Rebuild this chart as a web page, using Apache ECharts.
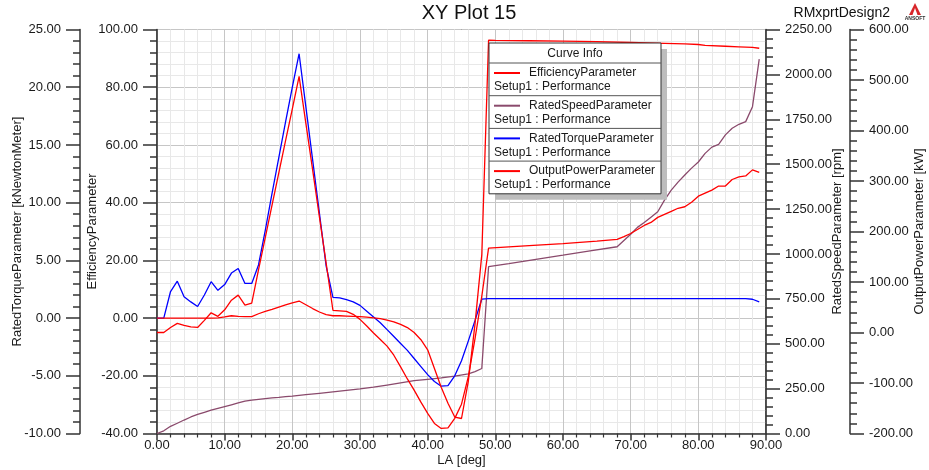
<!DOCTYPE html>
<html>
<head>
<meta charset="utf-8">
<title>XY Plot 15</title>
<script src="https://cdn.jsdelivr.net/npm/echarts@6/dist/echarts.min.js"></script>
<style>
  html, body { margin: 0; padding: 0; background: #ffffff; }
  #chart { width: 929px; height: 470px; }
</style>
</head>
<body>
<div id="chart"></div>
<script>
// Parametric sweep of the lead angle LA [deg]; each series is [LA, value].
const efficiency = [
  [0,0],[1,0],[2,0],[3,0],[4,0],[5,0],[6,0],[7,0],[8,0],[9,0.1],[10,0.4],[11,0.8],[12,0.6],[13,0.5],[14,0.5],
  [15,1.5],[16,2.3],[17,3.0],[18,3.8],[19,4.6],[20,5.3],[21,5.9],[22,4.6],[23,3.3],[24,2.1],[25,1.2],[26,0.8],
  [27,0.8],[28,0.7],[29,0.6],[30,0.5],[31,0.3],[32,0.1],[33,-0.2],[34,-0.7],[35,-1.3],[36,-2.2],[37,-3.3],
  [38,-5.0],[39,-7.5],[40,-11.0],[41,-17.5],[42,-24.0],[43,-29.5],[44,-34.3],[45,-34.8],[46,-22.0],[47,-2.0],
  [48,22.0],[49,96.3],[50,96.2],[55,96.1],[60,96.0],[65,95.8],[70,95.5],[75,95.2],[78,95.0],[80,94.8],
  [81,94.5],[84,94.2],[86,94.0],[88,93.8],[89,93.5]
];

const ratedSpeed = [
  [0,0],[1,15],[2,40],[3,57],[4,75],[5,92],[6,106],[7,118],[8,130],[9,140],[10,150],[11,160],[12,170],[13,180],
  [14,186],[15,190],[16,194],[17,198],[18,201],[19,205],[20,208],[22,216],[24,224],[26,232],[28,240],[30,248],
  [32,258],[34,270],[36,282],[38,294],[40,302],[42,310],[44,320],[46,332],[47,345],[48,362],[49,929],[52,946],
  [56,970],[60,993],[64,1017],[68,1040],[69,1075],[70,1110],[71,1148],[72,1175],[73,1205],[74,1235],[75,1300],
  [76,1355],[77,1400],[78,1440],[79,1478],[80,1512],[81,1560],[82,1595],[83,1610],[84,1663],[85,1700],
  [86,1722],[87,1737],[88,1820],[89,2085]
];

const ratedTorque = [
  [0,0],[1,0],[2,2.3],[3,3.2],[4,1.85],[5,1.4],[6,1.0],[7,2.0],[8,3.15],[9,2.4],[10,2.9],[11,3.9],[12,4.3],
  [13,3.0],[14,3.0],[15,4.6],[16,7.6],[17,10.8],[18,13.9],[19,17.0],[20,20.0],[21,22.9],[22,18.3],[23,13.7],
  [24,9.1],[25,4.5],[26,1.8],[27,1.75],[28,1.6],[29,1.4],[30,1.1],[31,0.6],[32,0.1],[33,-0.4],[34,-1.0],
  [35,-1.6],[36,-2.2],[37,-2.8],[38,-3.5],[39,-4.2],[40,-4.9],[41,-5.5],[42,-5.9],[43,-5.85],[44,-5.0],
  [45,-3.7],[46,-2.0],[47,-0.2],[48,1.65],[49,1.69],[55,1.69],[60,1.69],[65,1.69],[70,1.69],[75,1.69],
  [80,1.69],[84,1.69],[86,1.68],[87,1.68],[88,1.63],[89,1.41]
];

const outputPower = [
  [0,0],[1,0],[2,10],[3,18],[4,14],[5,11],[6,10],[7,24],[8,39],[9,32],[10,45],[11,64],[12,74],[13,54],[14,58],
  [15,124],[16,188],[17,252],[18,316],[19,380],[20,443],[21,507],[22,414],[23,322],[24,229],[25,137],[26,44],
  [27,43],[28,42],[29,36],[30,26],[31,13],[32,-1],[33,-14],[34,-27],[35,-45],[36,-68],[37,-92],[38,-114],
  [39,-138],[40,-160],[41,-180],[42,-190],[43,-189],[44,-170],[45,-142],[46,-88],[47,-12],[48,72],[49,167],
  [55,172],[60,176],[65,181],[68,184.5],[69,190],[70,196],[71,204],[72,212],[73,218],[74,228],[75,234],
  [76,240],[77,246],[78,249],[79,258],[80,270],[81,276],[82,282],[83,290],[84,290],[85,303],[86,308],
  [87,310],[88,322],[89,317]
];

const seriesNames = ['EfficiencyParameter', 'RatedSpeedParameter', 'RatedTorqueParameter', 'OutputPowerParameter'];
const seriesColors = ['#ff0000', '#8a4a6c', '#0000ff', '#ff0000'];
const setupLabel = 'Setup1 : Performance';
const plotTitle = 'XY Plot 15';
const designName = 'RMxprtDesign2';
const xAxisName = 'LA [deg]';
const yAxisNames = ['RatedTorqueParameter [kNewtonMeter]', 'EfficiencyParameter', 'RatedSpeedParameter [rpm]', 'OutputPowerParameter [kW]'];

const FONT = '"Liberation Sans", Arial, sans-serif';
const AXIS_COLOR = '#333333';
const TEXT_COLOR = '#1a1a1a';

function fixed2(v) { return Number(v).toFixed(2); }

function valueAxis(cfg) {
  return {
    type: 'value',
    position: cfg.position,
    offset: cfg.offset,
    min: cfg.min,
    max: cfg.max,
    interval: cfg.interval,
    name: cfg.name,
    nameLocation: 'middle',
    nameGap: cfg.nameGap,
    nameRotate: 90,
    nameMoveOverlap: false,
    nameTextStyle: { color: TEXT_COLOR, fontSize: 13, fontFamily: FONT },
    axisLine: { show: true, onZero: false, lineStyle: { color: AXIS_COLOR, width: 1.5 } },
    axisTick: { show: true, inside: false, length: 14, lineStyle: { color: AXIS_COLOR, width: 1.5 } },
    minorTick: { show: true, splitNumber: 5, length: 7, lineStyle: { color: AXIS_COLOR, width: 1.5 } },
    axisLabel: { show: true, margin: 19, color: TEXT_COLOR, fontSize: 13, fontFamily: FONT, formatter: fixed2, hideOverlap: false },
    splitLine: cfg.grid ? { show: true, lineStyle: { color: '#c6c6c6', width: 1 } } : { show: false },
    minorSplitLine: cfg.grid ? { show: true, lineStyle: { color: '#e8e8e8', width: 1 } } : { show: false }
  };
}

// Legend panel ("Curve Info") drawn as graphic elements
const legendLeft = 489, legendTop = 43, legendW = 172, headerH = 20, rowH = 32.7;
const legendH = headerH + rowH * seriesNames.length;
const legendGraphics = [
  { type: 'rect', shape: { x: legendLeft + 6, y: legendTop + 6, width: legendW, height: legendH },
    style: { fill: '#bdbdbd' }, z: 100 },
  { type: 'rect', shape: { x: legendLeft, y: legendTop, width: legendW, height: legendH },
    style: { fill: '#ffffff', stroke: '#333333', lineWidth: 1 }, z: 101 },
  { type: 'text', x: legendLeft + legendW / 2, y: legendTop + headerH / 2 + 1,
    style: { text: 'Curve Info', fill: TEXT_COLOR, font: '12px ' + FONT, textAlign: 'center', textVerticalAlign: 'middle' }, z: 102 }
];
seriesNames.forEach(function (name, i) {
  const top = legendTop + headerH + rowH * i;
  legendGraphics.push(
    { type: 'line', shape: { x1: legendLeft, y1: top, x2: legendLeft + legendW, y2: top },
      style: { stroke: '#555555', lineWidth: 1 }, z: 102 },
    { type: 'line', shape: { x1: legendLeft + 5, y1: top + 10, x2: legendLeft + 31, y2: top + 10 },
      style: { stroke: seriesColors[i], lineWidth: 2 }, z: 102 },
    { type: 'text', x: legendLeft + 40, y: top + 10,
      style: { text: name, fill: TEXT_COLOR, font: '12px ' + FONT, textVerticalAlign: 'middle' }, z: 102 },
    { type: 'text', x: legendLeft + 5, y: top + 24,
      style: { text: setupLabel, fill: TEXT_COLOR, font: '12px ' + FONT, textVerticalAlign: 'middle' }, z: 102 }
  );
});

const headerGraphics = [
  { type: 'text', x: 469, y: 13,
    style: { text: plotTitle, fill: '#111111', font: '20px ' + FONT, textAlign: 'center', textVerticalAlign: 'middle' } },
  { type: 'text', x: 890, y: 13,
    style: { text: designName, fill: '#111111', font: '14px ' + FONT, textAlign: 'right', textVerticalAlign: 'middle' } },
  // small company mark in the corner
  { type: 'polygon', shape: { points: [[915, 3], [909, 15], [921, 15]] }, style: { fill: '#d8262a' } },
  { type: 'polygon', shape: { points: [[915, 8], [912.5, 15], [917.5, 15]] }, style: { fill: '#ffffff' } },
  { type: 'text', x: 915, y: 19,
    style: { text: 'ANSOFT', fill: '#333333', font: 'bold 5px ' + FONT, textAlign: 'center', textVerticalAlign: 'middle' } }
];

const chart = echarts.init(document.getElementById('chart'), null, { renderer: 'canvas' });

chart.setOption({
  animation: false,
  backgroundColor: '#ffffff',
  grid: {
    left: 157, right: 163, top: 29.5, bottom: 36.5,
    show: true, borderColor: '#222222', borderWidth: 1, backgroundColor: 'transparent',
    containLabel: false, outerBoundsMode: 'none'
  },
  xAxis: {
    type: 'value',
    min: 0, max: 90, interval: 10,
    name: xAxisName,
    nameLocation: 'middle',
    nameGap: 20,
    nameMoveOverlap: false,
    nameTextStyle: { color: TEXT_COLOR, fontSize: 13, fontFamily: FONT },
    axisLine: { show: true, onZero: false, lineStyle: { color: AXIS_COLOR, width: 1.5 } },
    axisTick: { show: true, length: 7, lineStyle: { color: AXIS_COLOR, width: 1.5 } },
    minorTick: { show: true, splitNumber: 5, length: 4, lineStyle: { color: AXIS_COLOR, width: 1.2 } },
    axisLabel: { margin: 5, color: TEXT_COLOR, fontSize: 13, fontFamily: FONT, formatter: fixed2, hideOverlap: false },
    splitLine: { show: true, lineStyle: { color: '#c6c6c6', width: 1 } },
    minorSplitLine: { show: true, lineStyle: { color: '#e8e8e8', width: 1 } }
  },
  yAxis: [
    valueAxis({ position: 'left', offset: 77, min: -10, max: 25, interval: 5, name: yAxisNames[0], nameGap: 56 }),
    valueAxis({ position: 'left', offset: 0, min: -40, max: 100, interval: 20, name: yAxisNames[1], nameGap: 58, grid: true }),
    valueAxis({ position: 'right', offset: 0, min: 0, max: 2250, interval: 250, name: yAxisNames[2], nameGap: 65 }),
    valueAxis({ position: 'right', offset: 84, min: -200, max: 600, interval: 100, name: yAxisNames[3], nameGap: 63 })
  ],
  series: [
    { name: seriesNames[1], type: 'line', yAxisIndex: 2, data: ratedSpeed, showSymbol: false, smooth: false,
      lineStyle: { color: seriesColors[1], width: 1.3 }, itemStyle: { color: seriesColors[1] }, z: 2 },
    { name: seriesNames[2], type: 'line', yAxisIndex: 0, data: ratedTorque, showSymbol: false, smooth: false,
      lineStyle: { color: seriesColors[2], width: 1.3 }, itemStyle: { color: seriesColors[2] }, z: 3 },
    { name: seriesNames[3], type: 'line', yAxisIndex: 3, data: outputPower, showSymbol: false, smooth: false,
      lineStyle: { color: seriesColors[3], width: 1.3 }, itemStyle: { color: seriesColors[3] }, z: 4 },
    { name: seriesNames[0], type: 'line', yAxisIndex: 1, data: efficiency, showSymbol: false, smooth: false,
      lineStyle: { color: seriesColors[0], width: 1.3 }, itemStyle: { color: seriesColors[0] }, z: 5 }
  ],
  graphic: headerGraphics.concat(legendGraphics)
});
</script>
</body>
</html>
